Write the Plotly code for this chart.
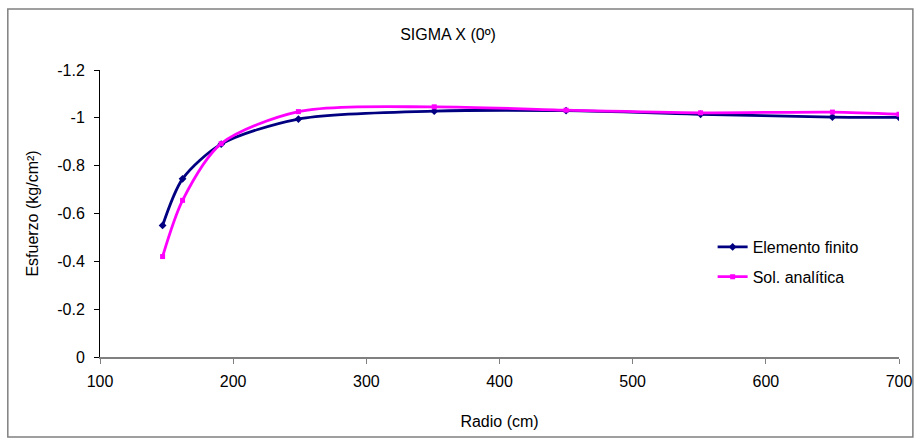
import plotly.graph_objects as go

radio = [147, 162, 191, 249, 351, 450, 551, 650, 700]
elemento_finito = [-0.55, -0.745, -0.89, -0.995, -1.028, -1.03, -1.015, -1.003, -1.002]
sol_analitica = [-0.42, -0.655, -0.892, -1.026, -1.046, -1.032, -1.021, -1.024, -1.015]

y_ticks = [0, -0.2, -0.4, -0.6, -0.8, -1.0, -1.2]
y_ticktext = ["0", "-0.2", "-0.4", "-0.6", "-0.8", "-1", "-1.2"]
x_ticks = [100, 200, 300, 400, 500, 600, 700]

FONT = "Liberation Sans, Arial, sans-serif"

fig = go.Figure()
fig.add_trace(go.Scatter(
    x=radio, y=elemento_finito, name="Elemento finito", legendgroup="a",
    mode="lines+markers", line=dict(color="#000080", width=2.8, shape="spline", smoothing=0.8),
    marker=dict(symbol="diamond", size=6, color="#000080"),
))
fig.add_trace(go.Scatter(
    x=radio, y=sol_analitica, name="Sol. analítica", legendgroup="b",
    mode="lines+markers", line=dict(color="#FF00FF", width=2.8, shape="spline", smoothing=0.8),
    marker=dict(symbol="square", size=5, color="#FF00FF"),
))

W, H = 924, 440
ml, mr, mt, mb = 100, 18, 70, 83
pw, ph = W - ml - mr, H - mt - mb

def px2paper_x(px):
    return (px - ml) / pw

def px2paper_y(py):
    return (H - mb - py) / ph

fig.add_shape(type="rect", xref="paper", yref="paper",
              x0=px2paper_x(7), x1=px2paper_x(920), y0=px2paper_y(437), y1=px2paper_y(9),
              line=dict(color="#808080", width=1.5), fillcolor="rgba(0,0,0,0)", layer="below")

fig.update_layout(
    width=W, height=H,
    margin=dict(l=ml, r=mr, t=mt, b=mb, pad=0),
    paper_bgcolor="white", plot_bgcolor="white",
    font=dict(family=FONT, size=16, color="black"),
    title=dict(text="SIGMA X (0º)", x=448 / W, xref="container", xanchor="center",
               y=1 - 34 / H, yref="container", yanchor="middle",
               font=dict(family=FONT, size=16, color="black")),
    showlegend=True,
    legend=dict(x=px2paper_x(718), y=px2paper_y(230), xanchor="left", yanchor="top",
                bgcolor="rgba(0,0,0,0)", font=dict(family=FONT, size=16),
                tracegroupgap=6, itemwidth=30),
    xaxis=dict(
        range=[100, 700], tickvals=x_ticks, showgrid=False, zeroline=False,
        showline=True, linecolor="#808080", linewidth=2,
        ticks="outside", ticklen=5, tickcolor="#808080", ticklabelstandoff=4,
        title=dict(text="Radio (cm)", standoff=27, font=dict(family=FONT, size=16)),
        tickfont=dict(family=FONT, size=16),
    ),
    yaxis=dict(
        range=[0, -1.2], tickvals=y_ticks, ticktext=y_ticktext, showgrid=False, zeroline=False,
        showline=True, linecolor="black", linewidth=1,
        ticks="outside", ticklen=5, tickcolor="black", ticklabelstandoff=6,
        title=dict(text="Esfuerzo (kg/cm²)", standoff=14, font=dict(family=FONT, size=16)),
        tickfont=dict(family=FONT, size=16),
    ),
)

fig.write_html("out.html", config={"displayModeBar": False},
               post_script="document.body.style.margin='0';")
